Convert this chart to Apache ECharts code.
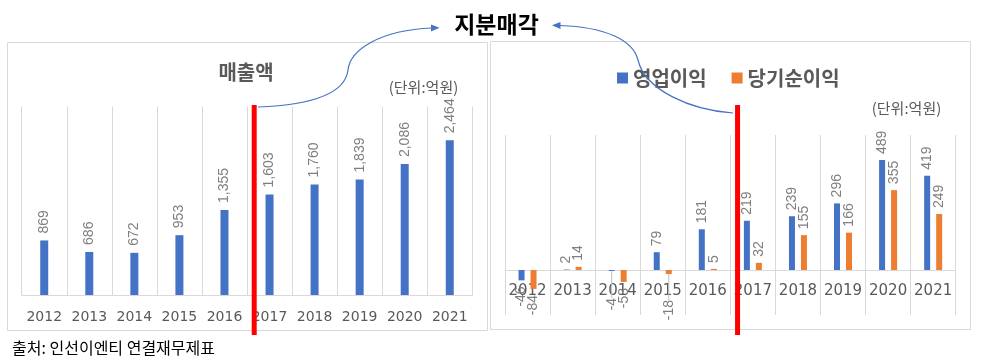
<!DOCTYPE html>
<html><head><meta charset="utf-8">
<script src="https://cdn.jsdelivr.net/npm/echarts/dist/echarts.min.js"></script>
<style>html,body{margin:0;padding:0;background:#fff}#c{width:981px;height:364px}</style>
</head><body><div id="c"></div>
<script>
const years = ['2012','2013','2014','2015','2016','2017','2018','2019','2020','2021'];
const revenue = [869, 686, 672, 953, 1355, 1603, 1760, 1839, 2086, 2464];
const opProfit = [-46, 2, -4, 79, 181, 219, 239, 296, 489, 419];
const netProfit = [-84, 14, -53, -18, 5, 32, 155, 166, 355, 249];
const mainTitle = '지분매각';
const leftTitle = '매출액';
const unitText = '(단위:억원)';
const seriesNames = ['영업이익', '당기순이익'];
const sourceText = '출처: 인선이엔티 연결재무제표';

const KR = '"Noto Sans CJK KR", "Noto Sans", sans-serif';
const NUM = '"Liberation Sans", Arial, sans-serif';
const AX = '"DejaVu Sans", sans-serif';
const BLUE = '#4472c4', ORANGE = '#ed7d31', GRAY = '#595959', LGRAY = '#d9d9d9', LBL = '#7f7f7f';

const fmt = p => Number(p.value).toLocaleString('en-US');
const labelBase = { show: true, rotate: 90, verticalAlign: 'middle', color: LBL, fontFamily: NUM, formatter: fmt };

function items(arr, movedIdx) {
  return arr.map((v, i) => {
    const neg = v < 0;
    const it = { value: v, label: { position: neg ? 'bottom' : 'top', align: neg ? 'right' : 'left' } };
    if (i === movedIdx) it.labelLine = { show: true, lineStyle: { color: '#bfbfbf', width: 1 } };
    return it;
  });
}

const chart = echarts.init(document.getElementById('c'), null, { renderer: 'canvas' });
const axisCommon = {
  type: 'category', data: years, axisTick: { show: false },
  splitLine: { show: true, interval: 0, lineStyle: { color: LGRAY } }
};
const option = {
  animation: false,
  backgroundColor: '#fff',
  grid: [
    { left: 21.7, right: 508.7, top: 106.7, bottom: 69, containLabel: false, outerBoundsMode: 'none' },
    { left: 505, right: 25.3, top: 135, bottom: 49, containLabel: false, outerBoundsMode: 'none' }
  ],
  legend: {
    data: seriesNames, icon: 'rect', itemWidth: 11, itemHeight: 11, itemGap: 25,
    left: 612, top: 63,
    textStyle: { fontFamily: KR, fontWeight: 'bold', fontSize: 20, color: GRAY }
  },
  xAxis: [
    Object.assign({}, axisCommon, { gridIndex: 0,
      axisLine: { lineStyle: { color: LGRAY } },
      axisLabel: { interval: 0, hideOverlap: false, margin: 15, fontSize: 14, fontFamily: AX, color: GRAY } }),
    Object.assign({}, axisCommon, { gridIndex: 1, position: 'bottom', offset: 0,
      axisLine: { onZero: false, lineStyle: { color: LGRAY } },
      axisLabel: { interval: 0, hideOverlap: false, margin: 14, fontSize: 15, fontFamily: AX, color: GRAY } })
  ],
  yAxis: [
    { gridIndex: 0, type: 'value', min: 0, max: 3000, show: false },
    { gridIndex: 1, type: 'value', min: -200, max: 600, show: false }
  ],
  series: [
    { type: 'bar', name: leftTitle, xAxisIndex: 0, yAxisIndex: 0, data: items(revenue, -1),
      barWidth: 8, itemStyle: { color: BLUE },
      label: Object.assign({}, labelBase, { fontSize: 14, distance: 7 }) },
    { type: 'bar', name: seriesNames[0], xAxisIndex: 1, yAxisIndex: 1, data: items(opProfit, 2),
      barWidth: 6, barGap: '100%', itemStyle: { color: BLUE },
      label: Object.assign({}, labelBase, { fontSize: 14, distance: 6 }),
      labelLayout: p => (p.dataIndex === 2 ? { dx: -21 } : {}) },
    { type: 'bar', name: seriesNames[1], xAxisIndex: 1, yAxisIndex: 1, data: items(netProfit, 3),
      barWidth: 6, barGap: '100%', itemStyle: { color: ORANGE },
      label: Object.assign({}, labelBase, { fontSize: 14, distance: 6 }),
      labelLayout: p => (p.dataIndex === 3 ? { dx: -20 } : {}) }
  ]
};
chart.setOption(option);

// place the right x axis on the zero line
const zeroY = chart.convertToPixel({ yAxisIndex: 1 }, 0);
const bottomY = chart.getHeight() - 49;
chart.setOption({ xAxis: [{}, { offset: zeroY - bottomY }] });

// annotations
const c4L = chart.convertToPixel({ xAxisIndex: 0 }, 4), c5L = chart.convertToPixel({ xAxisIndex: 0 }, 5);
const c4R = chart.convertToPixel({ xAxisIndex: 1 }, 4), c5R = chart.convertToPixel({ xAxisIndex: 1 }, 5);
const redL = c4L + (c5L - c4L) * 0.66;
const redR = c4R + (c5R - c4R) * 0.66;

const arrowStyle = { stroke: BLUE, lineWidth: 1.2, fill: null };
const txt = (text, x, y, font, fill, align) => ({ type: 'text', silent: true, z: 100,
  style: { text, x, y, font, fill, textAlign: align || 'center', textVerticalAlign: 'middle' } });

chart.setOption({
  graphic: [
    { type: 'rect', z: -10, shape: { x: 7.5, y: 42.5, width: 480, height: 288 }, style: { fill: null, stroke: LGRAY, lineWidth: 1 } },
    { type: 'rect', z: -10, shape: { x: 490.5, y: 41.5, width: 480, height: 288 }, style: { fill: null, stroke: LGRAY, lineWidth: 1 } },
    txt(mainTitle, 496.5, 24, 'bold 23px ' + KR, '#000'),
    txt(leftTitle, 246, 72, 'bold 20px ' + KR, GRAY),
    txt(unitText, 423.5, 87, '15px ' + KR, GRAY),
    txt(unitText, 906.5, 108, '15px ' + KR, GRAY),
    txt(sourceText, 12, 348, '16px ' + KR, '#000', 'left'),
    { type: 'rect', z: 50, shape: { x: redL - 2.5, y: 105, width: 5, height: 230 }, style: { fill: '#ff0000' } },
    { type: 'rect', z: 50, shape: { x: redR - 2.5, y: 105, width: 5, height: 230 }, style: { fill: '#ff0000' } },
    { type: 'bezierCurve', z: 60, shape: { x1: 258, y1: 107, cpx1: 310, cpy1: 105, cpx2: 345, cpy2: 95, x2: 348, y2: 70 }, style: arrowStyle },
    { type: 'bezierCurve', z: 60, shape: { x1: 348, y1: 70, cpx1: 350, cpy1: 50, cpx2: 380, cpy2: 30, x2: 432, y2: 28 }, style: arrowStyle },
    { type: 'polygon', z: 60, shape: { points: [[431, 24.5], [439.5, 27.8], [431, 31.5]] }, style: { fill: BLUE } },
    { type: 'bezierCurve', z: 60, shape: { x1: 733, y1: 113, cpx1: 690, cpy1: 110, cpx2: 645, cpy2: 90, x2: 638, y2: 60 }, style: arrowStyle },
    { type: 'bezierCurve', z: 60, shape: { x1: 638, y1: 60, cpx1: 633, cpy1: 40, cpx2: 605, cpy2: 27, x2: 560, y2: 25.5 }, style: arrowStyle },
    { type: 'polygon', z: 60, shape: { points: [[560.5, 22], [552, 25.2], [560.5, 29]] }, style: { fill: BLUE } }
  ]
});
</script></body></html>
